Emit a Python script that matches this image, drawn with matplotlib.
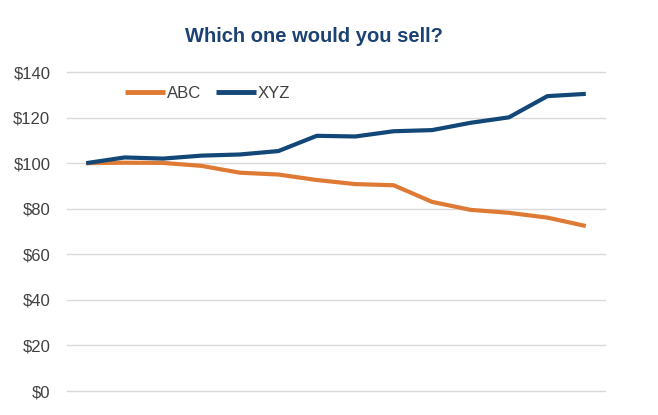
import matplotlib
matplotlib.use("Agg")
import matplotlib.pyplot as plt
from matplotlib.ticker import MultipleLocator, FuncFormatter

plt.rcParams['font.family'] = ['Liberation Sans', 'DejaVu Sans']

periods = list(range(14))
abc = [100, 100.2, 100.1, 98.8, 95.8, 95.0, 92.6, 90.8, 90.3, 83.0, 79.5, 78.2, 76.1, 72.4]
xyz = [100, 102.5, 102.0, 103.3, 103.8, 105.3, 112.0, 111.7, 114.0, 114.5, 117.7, 120.1, 129.4, 130.4]
series_names = ["ABC", "XYZ"]
yticks = [0, 20, 40, 60, 80, 100, 120, 140]
title = "Which one would you sell?"

W, H = 658, 415
fig = plt.figure(figsize=(W / 100, H / 100), dpi=100)
ax = fig.add_axes([67 / W, 24 / H, (605 - 67) / W, (391 - 72) / H])

orange = "#DF7A34"
blue = "#124778"
ax.plot(periods, abc, color=orange, lw=3.0, label=series_names[0], solid_capstyle='butt', zorder=3)
ax.plot(periods, xyz, color=blue, lw=3.0, label=series_names[1], solid_capstyle='butt', zorder=3)

ax.set_xlim(-0.5, len(periods) - 0.5)
ax.set_ylim(0, 140)
ax.set_yticks(yticks)
ax.yaxis.set_major_formatter(FuncFormatter(lambda v, p: f"${int(v)}"))
ax.set_xticks([])
ax.grid(axis='y', color='#D9D9D9', lw=1.0)
for gl in ax.yaxis.get_gridlines():
    gl.set_clip_on(False)
ax.set_axisbelow(True)
for s in ax.spines.values():
    s.set_visible(False)
ax.tick_params(axis='y', length=0, pad=12, labelsize=12, labelcolor='#404040')

fig.text(314 / W, 1 - 37 / H, title, ha='center', va='center', fontsize=14.5,
         fontweight='bold', color='#1B4272')

leg = ax.legend(loc='center left', bbox_to_anchor=(125 / W, 1 - 93 / H),
                bbox_transform=fig.transFigure, ncol=2, frameon=False,
                fontsize=12, handlelength=2.4, handletextpad=0.1,
                columnspacing=0.9, borderpad=0, borderaxespad=0)
for t in leg.get_texts():
    t.set_color('#404040')
for l in leg.get_lines():
    l.set_linewidth(3.5)

fig.savefig("out.png", dpi=100, facecolor='white')
